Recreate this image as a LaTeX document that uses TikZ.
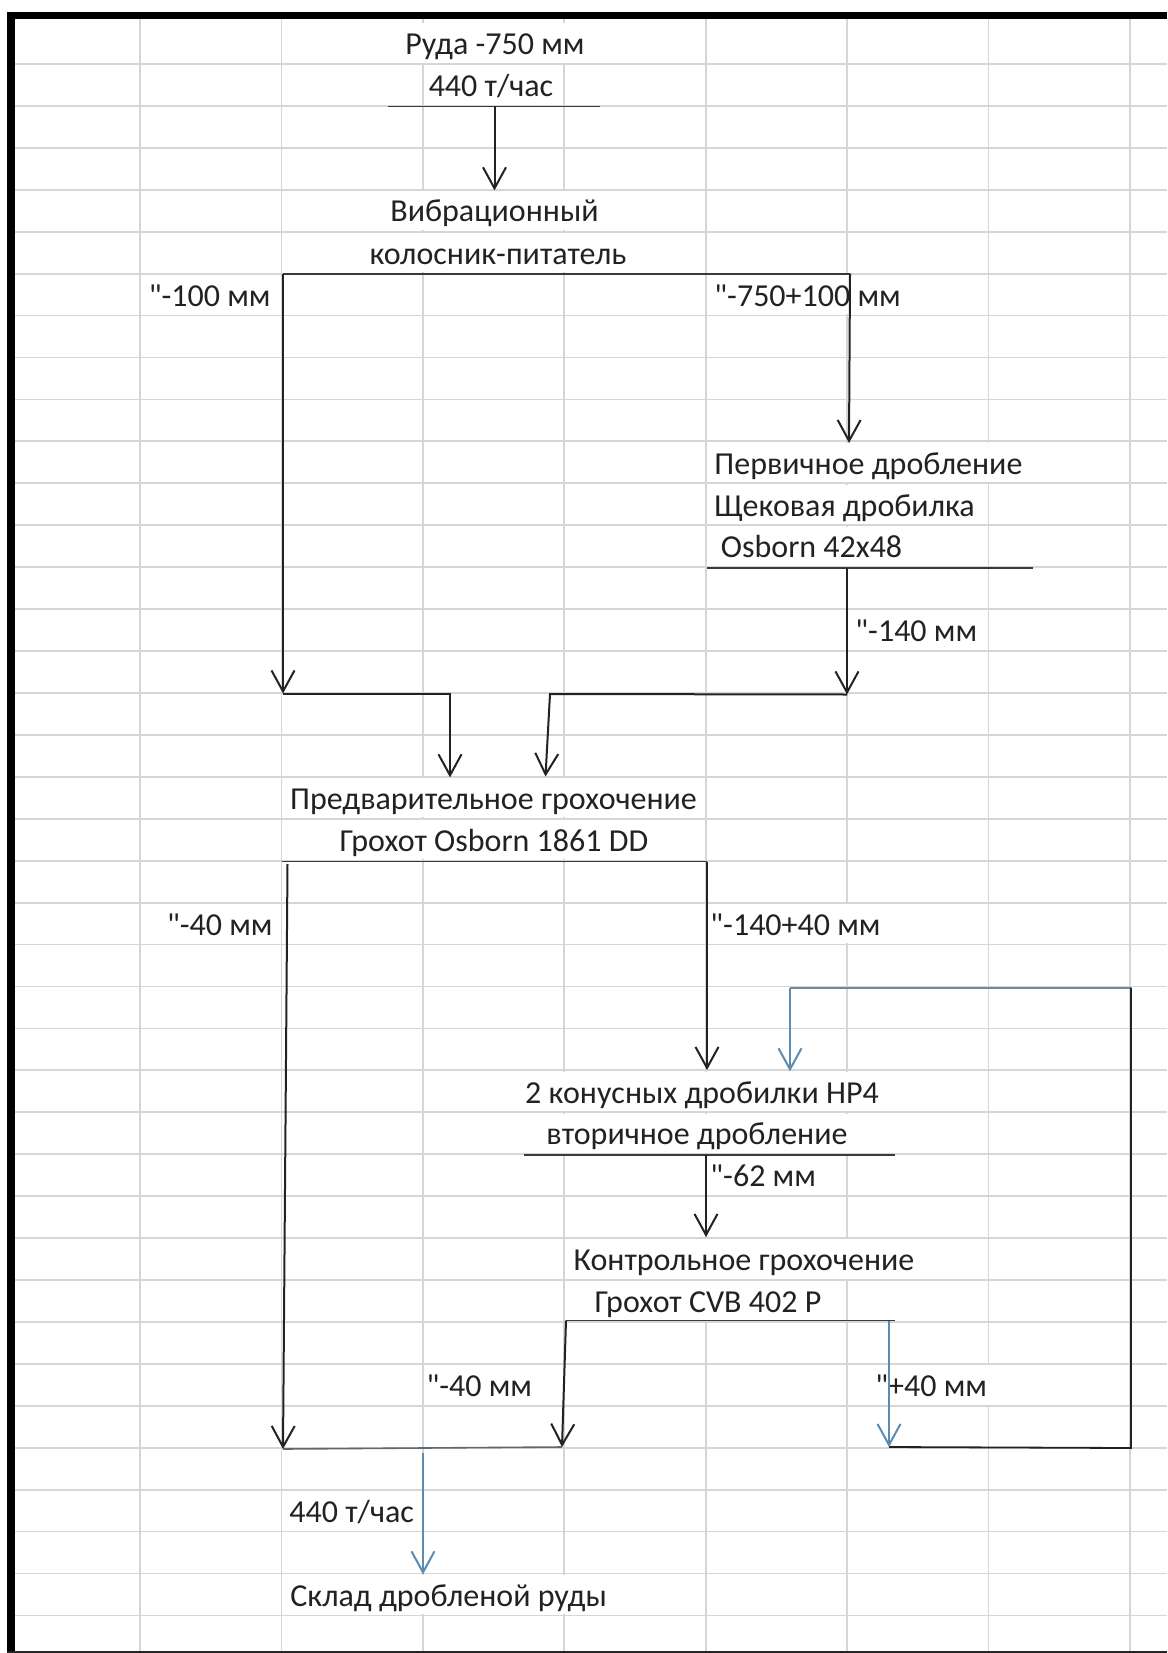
\documentclass[tikz,border=0pt]{standalone}
\usepackage{fontspec}
\setmainfont{Carlito}[Ligatures=TeXOff]
\usetikzlibrary{arrows.meta}

\definecolor{gridc}{HTML}{D6D6D6}
\definecolor{ink}{HTML}{222222}
\definecolor{rulec}{HTML}{3A3A3A}
\definecolor{flowblue}{HTML}{5D8CB0}
\definecolor{loopgray}{HTML}{72879A}
\definecolor{joingray}{HTML}{5E6873}

\begin{document}
\begin{tikzpicture}[x=0.5pt, y=-0.5pt,
  gridline/.style={draw=gridc, line width=0.9pt},
  lbl/.style={font=\fontsize{16pt}{19pt}\selectfont, text=ink, fill=white,
    inner xsep=1.5pt, inner ysep=0pt, text height=15.6pt, text depth=4.15pt},
  cellrule/.style={draw=rulec, line width=0.9pt},
  tip/.style={-{Straight Barb[length=10.5pt, width=11.5pt]}},
  flow/.style={draw=ink, line width=1pt},
  blueflow/.style={draw=flowblue, line width=1pt},
]
\useasboundingbox (0,0) rectangle (1167,1653);
\fill[white] (0,0) rectangle (1167,1653);

% spreadsheet grid
\foreach \k in {0,...,37}
  \draw[gridline] (15,{64+41.93*\k}) -- (1167,{64+41.93*\k});
\foreach \j in {0,...,7}
  \draw[gridline] ({140+141.4*\j},19) -- ({140+141.4*\j},1651);

% sheet frame
\fill[black] (7,12) rectangle (1167,19.5);
\fill[black] (7,12) rectangle (15,1653);
\fill[black!85] (7,1651.2) rectangle (1167,1653);

% labels (baseline positions)
\node[lbl, anchor=base] (ruda) at (495,54.5) {Руда -750 мм};
\node[lbl, anchor=base] (tph) at (491,96.5) {440 т/час};
\node[lbl, anchor=base] (vib) at (494.5,222) {Вибрационный};
\node[lbl, anchor=base] (kol) at (498,264) {колосник-питатель};
\node[lbl, anchor=base east] (lbl100) at (274,306) {"-100 мм};
\node[lbl, anchor=base west] (lbl750) at (711,306) {"-750+100 мм};
\node[lbl, anchor=base west] (perv) at (711,474) {Первичное дробление};
\node[lbl, anchor=base west] (shch) at (711,516) {Щековая дробилка};
\node[lbl, anchor=base west] (osb) at (717.5,557.7) {Osborn 42x48};
\node[lbl, anchor=base west] (lbl140) at (852,641.5) {"-140 мм};
\node[lbl, anchor=base] (pred) at (493.5,809) {Предварительное грохочение};
\node[lbl, anchor=base] (groh1) at (494,851) {Грохот Osborn 1861 DD};
\node[lbl, anchor=base east] (lbl40a) at (276,935) {"-40 мм};
\node[lbl, anchor=base west] (lbl14040) at (707,935) {"-140+40 мм};
\node[lbl, anchor=base] (kon) at (702,1103) {2 конусных дробилки HP4};
\node[lbl, anchor=base] (vtor) at (697,1144.7) {вторичное дробление};
\node[lbl, anchor=base west] (lbl62) at (707,1186.6) {"-62 мм};
\node[lbl, anchor=base] (kontr) at (744,1270.5) {Контрольное грохочение};
\node[lbl, anchor=base] (groh2) at (708,1312.4) {Грохот CVB 402 P};
\node[lbl, anchor=base east] (lbl40b) at (535.5,1396.3) {"-40 мм};
\node[lbl, anchor=base west] (lbl40p) at (872,1396.3) {"+40 мм};
\node[lbl, anchor=base west] (tph2) at (286,1522) {440 т/час};
\node[lbl, anchor=base west] (sklad) at (287,1606) {Склад дробленой руды};

% junction points of the flow lines
\coordinate (feedL) at (388,106.5);
\coordinate (feedR) at (600,106.5);
\coordinate (feedM) at (494.5,106.5);
\coordinate (gridL) at (283,273.6);
\coordinate (gridR) at (850,273.6);
\coordinate (fineEnd) at (283,693.5);
\coordinate (fineTurn) at (450,693.5);
\coordinate (jawIn) at (849,443);
\coordinate (jawL) at (707,568);
\coordinate (jawR) at (1033,568);
\coordinate (jawM) at (847,568);
\coordinate (jawEnd) at (847,694.5);
\coordinate (jawTurn) at (550,694);
\coordinate (screenL) at (282,861.5);
\coordinate (screenR) at (707,861.5);
\coordinate (underTop) at (287.5,864);
\coordinate (underEnd) at (283,1449);
\coordinate (overEnd) at (707,1070);
\coordinate (loopIn) at (790,987.5);
\coordinate (loopCorner) at (1131,987.5);
\coordinate (loopBase) at (1131,1448);
\coordinate (coneL) at (524,1155);
\coordinate (coneR) at (895,1155);
\coordinate (coneM) at (706,1155);
\coordinate (ctrlIn) at (706,1237);
\coordinate (ctrlL) at (566,1320.5);
\coordinate (ctrlR) at (895,1320.5);
\coordinate (ctrlBlue) at (889,1320.5);
\coordinate (fineEnd2) at (562,1447);
\coordinate (overEnd2) at (889,1447);
\coordinate (mergeM) at (423,1453);

% cell borders under the stage names
\draw[cellrule] (feedL) -- (feedR);
\draw[cellrule] (gridL) -- (gridR);
\draw[cellrule] (jawL) -- (jawR);
\draw[cellrule] (screenL) -- (screenR);
\draw[cellrule] (coneL) -- (coneR);
\draw[cellrule] (ctrlL) -- (ctrlR);

% flow lines
\draw[flow, tip] (feedM) -- (vib.north);
\draw[flow, tip] (gridL) -- (fineEnd);
\draw[flow, tip] (fineEnd) -- (fineTurn) -- (fineTurn |- pred.north);
\draw[flow, tip] (gridR) -- (jawIn);
\draw[flow, tip] (jawM) -- (jawEnd);
\draw[flow, tip] (jawEnd) -- (jawTurn) -- (545.5,776.5);
\draw[flow, tip] (underTop) -- (underEnd);
\draw[flow, tip] (screenR) -- (overEnd);
\draw[draw=loopgray, line width=1pt] (loopCorner) -- (loopIn);
\draw[blueflow, tip] (loopIn) -- (loopIn |- kon.north);
\draw[flow, line width=0.9pt] (overEnd2) -- (loopBase) -- (loopCorner);
\draw[flow, tip] (coneM) -- (ctrlIn);
\draw[flow, tip] (ctrlL) -- (fineEnd2);
\draw[blueflow, tip] (ctrlBlue) -- (overEnd2);
\draw[draw=joingray, line width=0.8pt] (underEnd) -- (fineEnd2);
\draw[blueflow, tip] (mergeM) -- (mergeM |- sklad.north);
\end{tikzpicture}
\end{document}
